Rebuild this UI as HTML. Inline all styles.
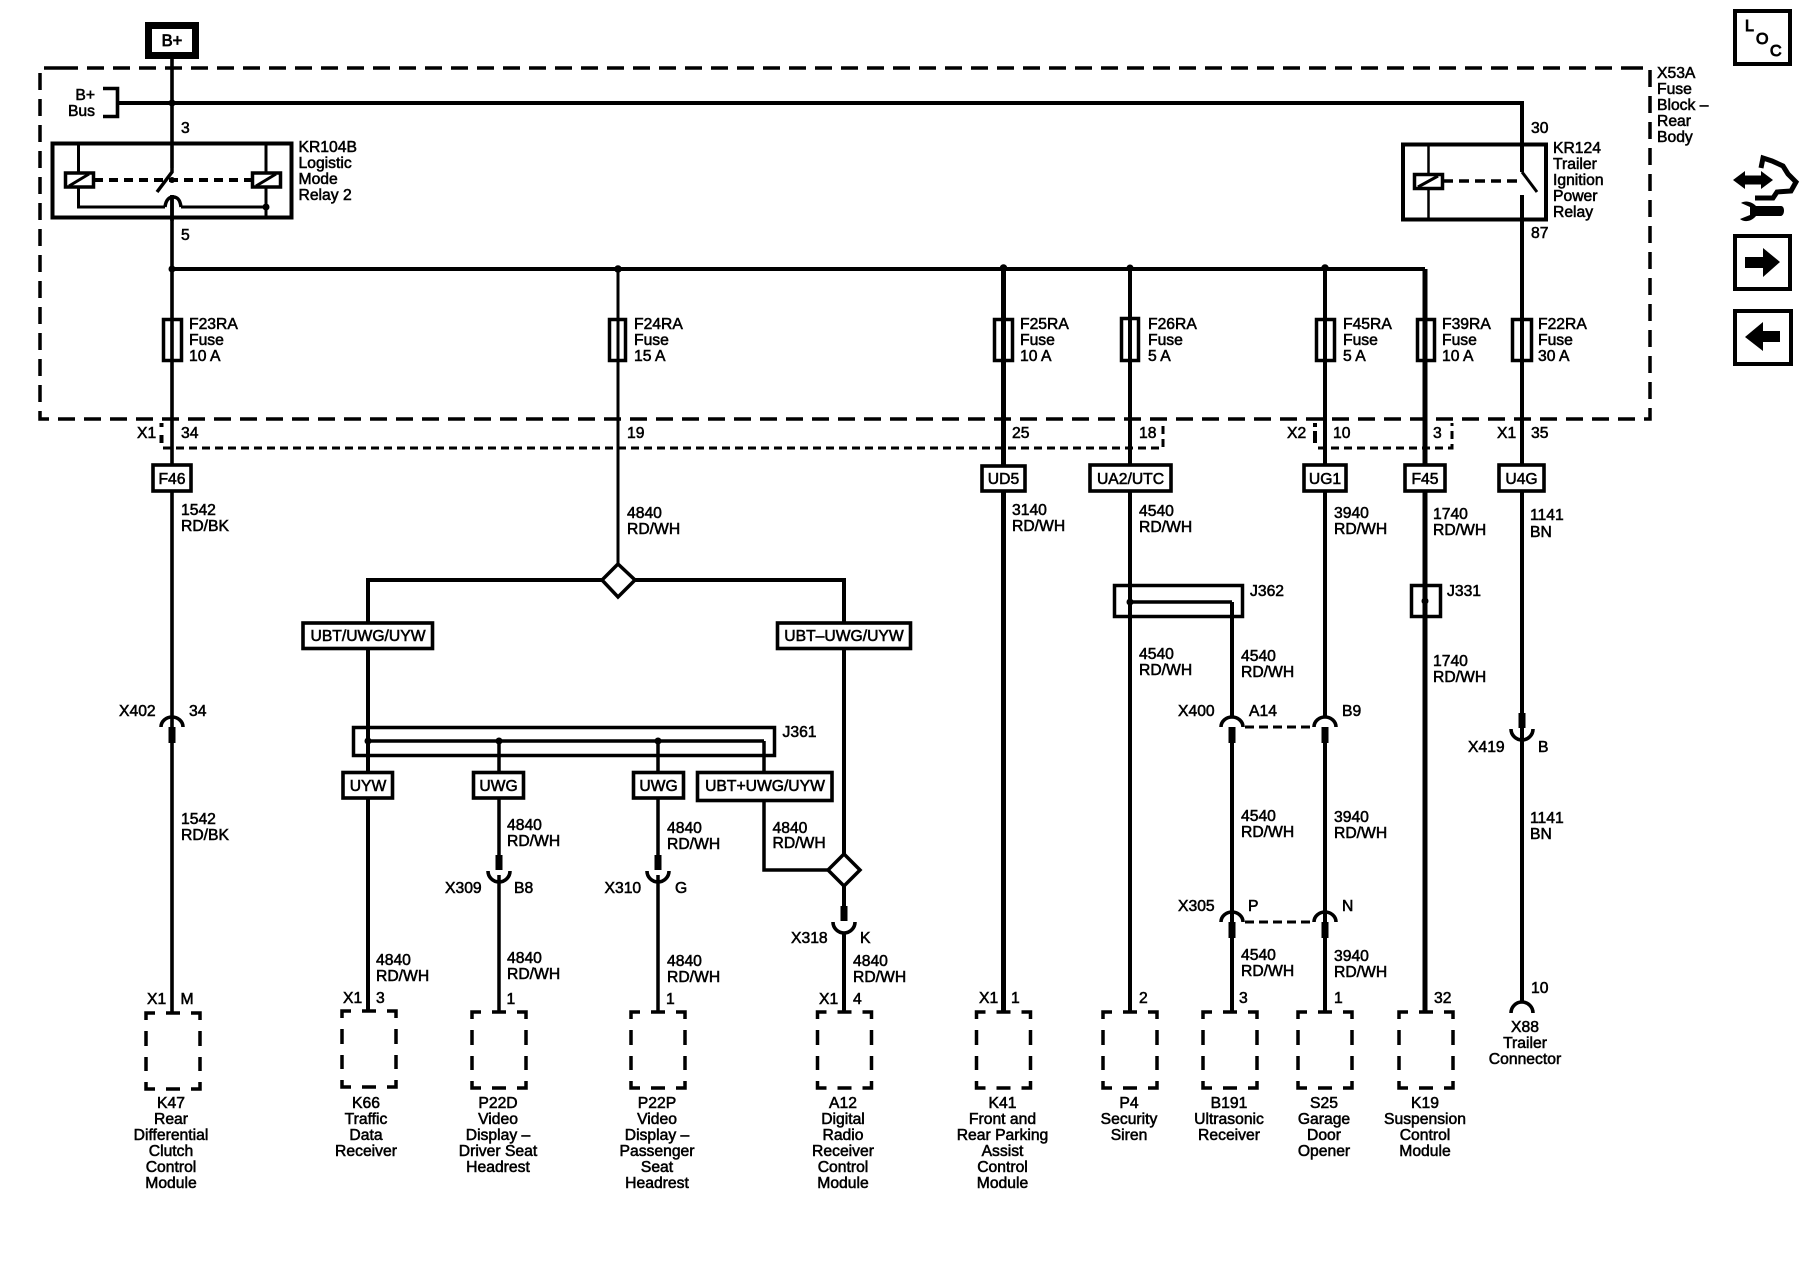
<!DOCTYPE html>
<html><head><meta charset="utf-8"><style>
html,body{margin:0;padding:0;background:#fff}
svg{display:block}
text{font-family:"Liberation Sans",Arial,sans-serif;font-size:15.7px;fill:#000;stroke:#000;stroke-width:.55px}
.m{text-anchor:middle}
.e{text-anchor:end}
</style></head><body>
<svg width="1800" height="1280" viewBox="0 0 1800 1280" xmlns="http://www.w3.org/2000/svg">
<rect width="1800" height="1280" fill="#fff"/>
<defs>
<path id="bx" d="M0 7V0H9M20 0H34M45 0H54V7M0 18V33M0 44V58M54 18V33M54 44V58M0 69V76H9M20 76H34M45 76H54V69" fill="none" stroke="#000" stroke-width="3.5"/>
<g id="cu" fill="none" stroke="#000"><path d="M-11 11A11 10 0 0 1 11 11" stroke-width="3.6"/><path d="M0 11V27" stroke-width="7"/></g>
<g id="cd" fill="none" stroke="#000"><path d="M0 -15V0" stroke-width="7"/><path d="M-11 1A11 11 0 0 0 11 1" stroke-width="3.6"/></g>
</defs>

<!-- frame -->
<g fill="none" stroke="#000" stroke-linecap="butt">
<path d="M61 68H40V419H1650V68H1630" stroke-width="3.5" stroke-dasharray="17 9"/>
<path d="M61 68H1630" stroke-width="3.5" stroke-dasharray="17 9"/>
<path d="M163 448H1163V423" stroke-width="3" stroke-dasharray="8 5"/>
<path d="M1318 448H1452V423" stroke-width="3" stroke-dasharray="8 5"/>
<path d="M161.5 423V427M161.5 435V443M1315 423V427M1315 431V443" stroke-width="4"/>
</g>

<!-- top wires -->
<g fill="none" stroke="#000">
<path d="M172 59V168M172 195V1014" stroke-width="3.6"/>
<path d="M119 103H1522V172M1522 195V716M1522 728V1002" stroke-width="4"/>
<path d="M103 88.500H117.500V116.500H103" stroke-width="3.6"/>
<path d="M172 269H1425" stroke-width="4"/>
<path d="M618 269V580" stroke-width="3"/>
<path d="M1003.500 269V1012" stroke-width="5"/>
<path d="M1130 269V1012" stroke-width="4"/>
<path d="M1325 269V716M1325 743V1012" stroke-width="4"/>
<path d="M1425 269V1012" stroke-width="5"/>
<path d="M1232 602V716M1232 743V1012" stroke-width="4"/>
</g>
<g>
<circle cx="172" cy="103" r="3.500"/><circle cx="172" cy="269" r="3.500"/><circle cx="618" cy="269" r="3.800"/><circle cx="1003.500" cy="268" r="3.800"/><circle cx="1130" cy="268" r="3.500"/><circle cx="1325" cy="268" r="3.800"/>
</g>

<!-- B+ box -->
<rect x="148.500" y="25.500" width="47" height="30" fill="#fff" stroke="#000" stroke-width="7"/>

<!-- KR104B -->
<g fill="none" stroke="#000">
<rect x="52.500" y="143.500" width="239" height="74" stroke-width="4"/>
<path d="M78.500 143V207H165M181 207H266M266 143V217" stroke-width="3"/>
<path d="M165 207C166 199 170 197 173 197C177 197 180 199 181 207" stroke-width="3.500"/>
<path d="M172 168V172L157 192" stroke-width="3.500"/>
<path d="M94 180H251" stroke-width="4" stroke-dasharray="9 6"/>
<rect x="65.500" y="173" width="28" height="14" fill="#fff" stroke-width="3.500"/>
<rect x="252.500" y="173" width="28" height="14" fill="#fff" stroke-width="3.500"/>
<path d="M69 186L89 174M256 186L276 174" stroke-width="3"/>
</g>
<circle cx="266" cy="207" r="3.500"/><circle cx="172" cy="180" r="3"/>
<path d="M172 195V221" stroke="#000" stroke-width="3.600"/>

<!-- KR124 -->
<g fill="none" stroke="#000">
<rect x="1403" y="144.500" width="143" height="75" stroke-width="4"/>
<path d="M1428.500 144V219" stroke-width="2.500"/>
<path d="M1443 181H1522" stroke-width="3.500" stroke-dasharray="10 6"/>
<rect x="1414.500" y="174.500" width="28" height="14" fill="#fff" stroke-width="3.500"/>
<path d="M1418 187L1438 176" stroke-width="3"/>
<path d="M1522 172L1537 192" stroke-width="3"/>
</g>

<!-- Fuses -->
<g fill="none" stroke="#000" stroke-width="3.500">
<rect x="163.500" y="319.500" width="18" height="41"/>
<rect x="609.500" y="319.500" width="16" height="41"/>
<rect x="994.500" y="319.500" width="18" height="41"/>
<rect x="1121.500" y="318.500" width="17" height="42"/>
<rect x="1316.500" y="319.500" width="18" height="41"/>
<rect x="1417.500" y="319.500" width="17" height="41"/>
<rect x="1512.500" y="319.500" width="19" height="41"/>
</g>

<!-- middle harness -->
<g fill="none" stroke="#000">
<path d="M368 1012V580H602M635 580H844V854M844 886V906M844 933V1012" stroke-width="4"/>
<path d="M764 741V870H828" stroke-width="3.500"/>
<path d="M368 741H764" stroke-width="3.500"/>
<path d="M499 741V855M499 875V1012" stroke-width="3.500"/>
<path d="M658 741V855M658 875V1012" stroke-width="3.500"/>
<rect x="353.500" y="727.500" width="421" height="28" stroke-width="3.500"/>
<path d="M618 564L635 580L618 597L602 580Z" fill="#fff" stroke-width="3.500"/>
<path d="M844 854L860 870L844 886L828 870Z" fill="#fff" stroke-width="3.500"/>
<rect x="1114.500" y="585.500" width="128" height="31" stroke-width="3.500"/>
<path d="M1130 602H1232" stroke-width="3.500"/>
<rect x="1411.500" y="585.500" width="29" height="31" stroke-width="3.500"/>
</g>
<circle cx="368" cy="741" r="3.500"/><circle cx="499" cy="741" r="3.500"/><circle cx="658" cy="741" r="3.500"/><circle cx="1130" cy="602" r="3.500"/><circle cx="1425" cy="601" r="3.500"/>

<!-- tag boxes -->
<g fill="#fff" stroke="#000" stroke-width="3.600">
<rect x="153" y="465" width="38" height="26"/>
<rect x="982" y="466" width="43" height="25"/>
<rect x="1090" y="465" width="81" height="26"/>
<rect x="1304" y="465" width="42" height="26"/>
<rect x="1405" y="465" width="40" height="26"/>
<rect x="1499" y="465" width="45" height="26"/>
<rect x="303" y="623" width="129.500" height="25.500"/>
<rect x="777.500" y="623" width="133" height="25.500"/>
<rect x="343" y="772.500" width="49.500" height="25.500"/>
<rect x="473.500" y="772.500" width="50" height="25.500"/>
<rect x="633.500" y="772.500" width="50" height="25.500"/>
<rect x="697.500" y="772.500" width="134.500" height="28"/>
</g>

<!-- connectors -->
<use href="#cu" x="172" y="716"/>
<use href="#cu" x="1232" y="716"/>
<use href="#cu" x="1325" y="716"/>
<use href="#cu" x="1232" y="911"/>
<use href="#cu" x="1325" y="911"/>
<use href="#cd" x="1522" y="728"/>
<use href="#cd" x="499" y="870"/>
<use href="#cd" x="658" y="870"/>
<use href="#cd" x="844" y="921"/>
<path d="M1511 1013A11 11 0 0 1 1533 1013" fill="none" stroke="#000" stroke-width="3.600"/>
<path d="M1245 727H1313M1245 922H1313" fill="none" stroke="#000" stroke-width="3" stroke-dasharray="9 5"/>

<!-- device boxes -->
<use href="#bx" x="146" y="1013"/>
<use href="#bx" x="342" y="1011"/>
<use href="#bx" x="472" y="1012"/>
<use href="#bx" x="631" y="1012"/>
<use href="#bx" x="817.500" y="1012"/>
<use href="#bx" x="976.500" y="1012"/>
<use href="#bx" x="1103" y="1012"/>
<use href="#bx" x="1203" y="1012"/>
<use href="#bx" x="1298" y="1012"/>
<use href="#bx" x="1399" y="1012"/>

<!-- right icons -->
<g fill="none" stroke="#000" stroke-width="4">
<rect x="1735" y="11" width="55" height="53"/>
<rect x="1735" y="236" width="55" height="53"/>
<rect x="1735" y="311" width="56" height="53"/>
<path d="M1761 168L1763 158L1772 161L1783 166L1788 174L1796 182L1791 191L1777 192L1773 198L1755 198" stroke-width="5"/>
</g>
<path d="M1745 257H1763V248L1780 262L1763 277V268H1745Z"/>
<path d="M1780 331H1763V322L1745 337L1763 351V342H1780Z"/>
<path d="M1733 180L1745 171V175.500H1761V171L1773 180L1761 189V184.500H1745V189Z"/>
<path d="M1741 203C1746 200 1752 202 1756 206H1781C1785 206 1785 215 1781 216H1756C1752 221 1745 223 1740 219L1750 215V207Z"/>
<text x="1745" y="31" style="font-size:16px;stroke-width:1px">L</text>
<text x="1756" y="44" style="font-size:16px;stroke-width:1px">O</text>
<text x="1770" y="56" style="font-size:16px;stroke-width:1px">C</text>

<!-- labels -->
<text x="172" y="46" class="m" style="font-size:16.500px;stroke-width:.8px">B+</text>
<text x="95" y="100" class="e">B+</text><text x="95" y="116" class="e">Bus</text>
<text x="181" y="133">3</text><text x="181" y="240">5</text>
<text x="298.500" y="152">KR104B</text><text x="298.500" y="168">Logistic</text><text x="298.500" y="184">Mode</text><text x="298.500" y="200">Relay 2</text>
<text x="1657" y="78">X53A</text><text x="1657" y="94">Fuse</text><text x="1657" y="110">Block –</text><text x="1657" y="126">Rear</text><text x="1657" y="142">Body</text>
<text x="1531" y="133">30</text><text x="1531" y="238">87</text>
<text x="1553" y="153">KR124</text><text x="1553" y="169">Trailer</text><text x="1553" y="185">Ignition</text><text x="1553" y="201">Power</text><text x="1553" y="217">Relay</text>

<text x="189" y="329">F23RA</text><text x="189" y="345">Fuse</text><text x="189" y="361">10 A</text>
<text x="634" y="329">F24RA</text><text x="634" y="345">Fuse</text><text x="634" y="361">15 A</text>
<text x="1020" y="329">F25RA</text><text x="1020" y="345">Fuse</text><text x="1020" y="361">10 A</text>
<text x="1148" y="329">F26RA</text><text x="1148" y="345">Fuse</text><text x="1148" y="361">5 A</text>
<text x="1343" y="329">F45RA</text><text x="1343" y="345">Fuse</text><text x="1343" y="361">5 A</text>
<text x="1442" y="329">F39RA</text><text x="1442" y="345">Fuse</text><text x="1442" y="361">10 A</text>
<text x="1538" y="329">F22RA</text><text x="1538" y="345">Fuse</text><text x="1538" y="361">30 A</text>

<text x="137" y="438">X1</text><text x="181" y="438">34</text><text x="627" y="438">19</text><text x="1012" y="438">25</text><text x="1139" y="438">18</text>
<text x="1287" y="438">X2</text><text x="1333" y="438">10</text><text x="1433" y="438">3</text><text x="1497" y="438">X1</text><text x="1531" y="438">35</text>

<text x="172" y="484" class="m">F46</text><text x="1003.500" y="484" class="m">UD5</text><text x="1130.500" y="484" class="m">UA2/UTC</text><text x="1325" y="484" class="m">UG1</text><text x="1425" y="484" class="m">F45</text><text x="1521.500" y="484" class="m">U4G</text>
<text x="368" y="641" class="m">UBT/UWG/UYW</text><text x="844" y="641" class="m">UBT–UWG/UYW</text>
<text x="368" y="791" class="m">UYW</text><text x="498.500" y="791" class="m">UWG</text><text x="658.500" y="791" class="m">UWG</text><text x="765" y="791" class="m">UBT+UWG/UYW</text>

<text x="181" y="515">1542</text><text x="181" y="531">RD/BK</text>
<text x="627" y="518">4840</text><text x="627" y="534">RD/WH</text>
<text x="1012" y="515">3140</text><text x="1012" y="531">RD/WH</text>
<text x="1139" y="516">4540</text><text x="1139" y="532">RD/WH</text>
<text x="1334" y="518">3940</text><text x="1334" y="534">RD/WH</text>
<text x="1433" y="519">1740</text><text x="1433" y="535">RD/WH</text>
<text x="1530" y="520">1141</text><text x="1530" y="537">BN</text>

<text x="1250" y="596">J362</text><text x="1447" y="596">J331</text><text x="782.500" y="737">J361</text>
<text x="1139" y="659">4540</text><text x="1139" y="675">RD/WH</text>
<text x="1241" y="661">4540</text><text x="1241" y="677">RD/WH</text>
<text x="1433" y="666">1740</text><text x="1433" y="682">RD/WH</text>

<text x="119" y="716">X402</text><text x="189" y="716">34</text>
<text x="1178" y="716">X400</text><text x="1249" y="716">A14</text><text x="1342" y="716">B9</text>
<text x="1468" y="752">X419</text><text x="1538" y="752">B</text>
<text x="181" y="824">1542</text><text x="181" y="840">RD/BK</text>
<text x="507" y="830">4840</text><text x="507" y="846">RD/WH</text>
<text x="667" y="833">4840</text><text x="667" y="849">RD/WH</text>
<text x="772.500" y="833">4840</text><text x="772.500" y="848">RD/WH</text>
<text x="1241" y="821">4540</text><text x="1241" y="837">RD/WH</text>
<text x="1334" y="822">3940</text><text x="1334" y="838">RD/WH</text>
<text x="1530" y="823">1141</text><text x="1530" y="839">BN</text>
<text x="445" y="893">X309</text><text x="514" y="893">B8</text>
<text x="604.500" y="893">X310</text><text x="675" y="893">G</text>
<text x="1178" y="911">X305</text><text x="1248" y="911">P</text><text x="1342" y="911">N</text>
<text x="791" y="943">X318</text><text x="860" y="943">K</text>

<text x="376" y="965">4840</text><text x="376" y="981">RD/WH</text>
<text x="507" y="963">4840</text><text x="507" y="979">RD/WH</text>
<text x="667" y="966">4840</text><text x="667" y="982">RD/WH</text>
<text x="853" y="966">4840</text><text x="853" y="982">RD/WH</text>
<text x="1241" y="960">4540</text><text x="1241" y="976">RD/WH</text>
<text x="1334" y="961">3940</text><text x="1334" y="977">RD/WH</text>

<text x="147" y="1004">X1</text><text x="180.500" y="1004">M</text>
<text x="343" y="1003">X1</text><text x="376" y="1003">3</text>
<text x="506.500" y="1004">1</text><text x="666" y="1004">1</text>
<text x="819" y="1004">X1</text><text x="853" y="1004">4</text>
<text x="979" y="1003">X1</text><text x="1011" y="1003">1</text>
<text x="1139" y="1003">2</text><text x="1239" y="1003">3</text><text x="1334" y="1003">1</text><text x="1434" y="1003">32</text>
<text x="1531" y="993">10</text>

<g class="m" text-anchor="middle">
<text x="171" y="1108">K47</text><text x="171" y="1124">Rear</text><text x="171" y="1140">Differential</text><text x="171" y="1156">Clutch</text><text x="171" y="1172">Control</text><text x="171" y="1188">Module</text>
<text x="366" y="1108">K66</text><text x="366" y="1124">Traffic</text><text x="366" y="1140">Data</text><text x="366" y="1156">Receiver</text>
<text x="498" y="1108">P22D</text><text x="498" y="1124">Video</text><text x="498" y="1140">Display –</text><text x="498" y="1156">Driver Seat</text><text x="498" y="1172">Headrest</text>
<text x="657" y="1108">P22P</text><text x="657" y="1124">Video</text><text x="657" y="1140">Display –</text><text x="657" y="1156">Passenger</text><text x="657" y="1172">Seat</text><text x="657" y="1188">Headrest</text>
<text x="843" y="1108">A12</text><text x="843" y="1124">Digital</text><text x="843" y="1140">Radio</text><text x="843" y="1156">Receiver</text><text x="843" y="1172">Control</text><text x="843" y="1188">Module</text>
<text x="1002.500" y="1108">K41</text><text x="1002.500" y="1124">Front and</text><text x="1002.500" y="1140">Rear Parking</text><text x="1002.500" y="1156">Assist</text><text x="1002.500" y="1172">Control</text><text x="1002.500" y="1188">Module</text>
<text x="1129" y="1108">P4</text><text x="1129" y="1124">Security</text><text x="1129" y="1140">Siren</text>
<text x="1229" y="1108">B191</text><text x="1229" y="1124">Ultrasonic</text><text x="1229" y="1140">Receiver</text>
<text x="1324" y="1108">S25</text><text x="1324" y="1124">Garage</text><text x="1324" y="1140">Door</text><text x="1324" y="1156">Opener</text>
<text x="1425" y="1108">K19</text><text x="1425" y="1124">Suspension</text><text x="1425" y="1140">Control</text><text x="1425" y="1156">Module</text>
<text x="1525" y="1032">X88</text><text x="1525" y="1048">Trailer</text><text x="1525" y="1064">Connector</text>
</g>
</svg>
</body></html>
